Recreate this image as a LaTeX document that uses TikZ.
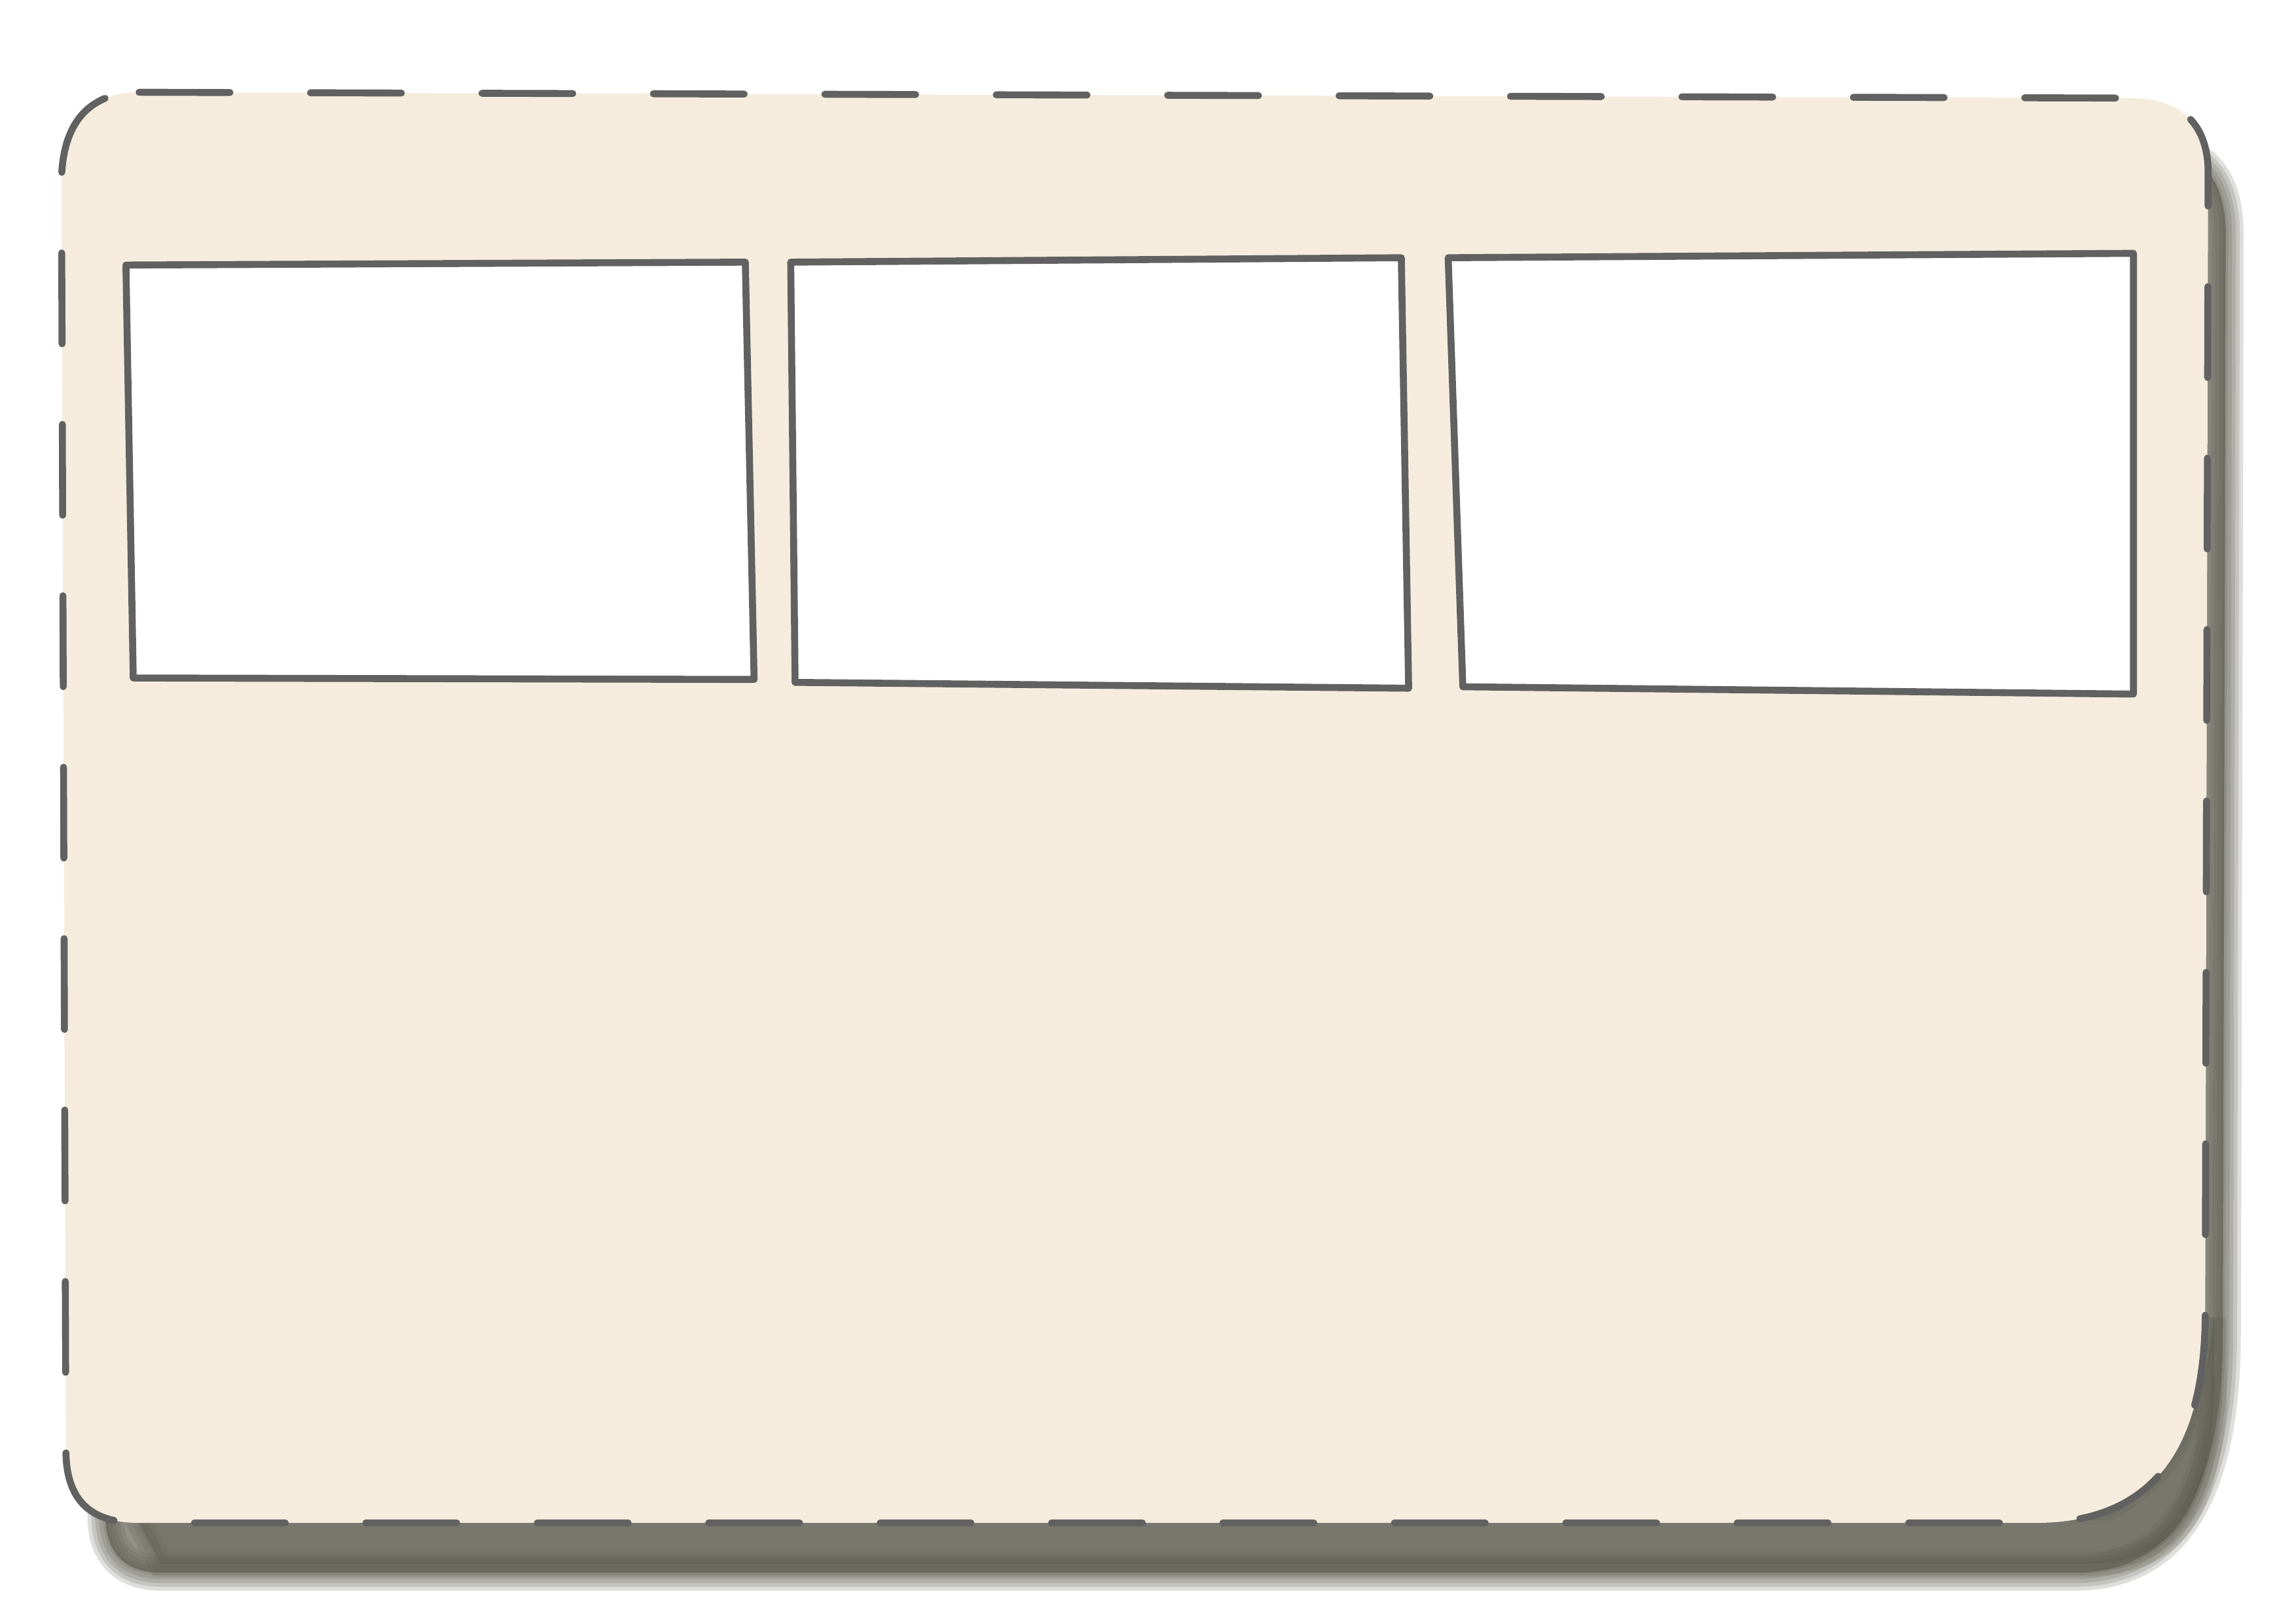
\documentclass[tikz,border=0pt]{standalone}
\definecolor{cream}{RGB}{245,236,222}
\definecolor{ink}{RGB}{97,97,97}
\definecolor{shade}{RGB}{92,92,80}
\newcommand\cardshape[1]{\path[#1] (95,63) -- (1458,67) .. controls (1490,68) and (1508,85) .. (1508,118) -- (1506,900) .. controls (1505,990) and (1470,1040) .. (1390,1040) -- (95,1040) .. controls (62,1040) and (45,1025) .. (45,990) -- (42,125) .. controls (42,85) and (60,63) .. (95,63) -- cycle;}
\newcommand\shadowshape[1]{\path[#1] (120,110) -- (1480,105) .. controls (1505,105) and (1520,125) .. (1520,160) -- (1518,920) .. controls (1516,1010) and (1490,1072) .. (1420,1074) -- (110,1074) .. controls (85,1074) and (72,1060) .. (72,1035) -- (72,150) .. controls (72,125) and (90,110) .. (120,110) -- cycle;}
\newcommand\bottomshade[1]{\path[#1] (90,1030) -- (1440,1030) .. controls (1490,1000) and (1505,960) .. (1512,900) -- (1512,960) .. controls (1505,1040) and (1480,1068) .. (1420,1068) -- (110,1068) -- cycle;}
\begin{document}
\begin{tikzpicture}[x=0.01cm,y=-0.01cm,
  inkline/.style={draw=ink,line width=1.35pt,line cap=round,line join=round},
  panel/.style={inkline,fill=white}]
\useasboundingbox (0,0) rectangle (1568,1108);
% blurred shadow
\foreach \w in {7,5.5,4,2.5,1}{
  \shadowshape{fill=shade,draw=shade,line width=\w pt,opacity=0.2}
}
\foreach \w in {5,3,1}{
  \bottomshade{fill=shade,draw=shade,line width=\w pt,opacity=0.2}
}
% card
\cardshape{fill=cream}
\cardshape{inkline,dash pattern=on 0.62cm off 0.55cm}
% panels
\draw[panel] (86,181) -- (509,179) -- (515,464) -- (91,463) -- cycle;
\draw[panel] (540,179) -- (957,176) -- (962,470) -- (543,466) -- cycle;
\draw[panel] (989,176) -- (1457,173) -- (1457,474) -- (999,469) -- cycle;
\end{tikzpicture}
\end{document}
